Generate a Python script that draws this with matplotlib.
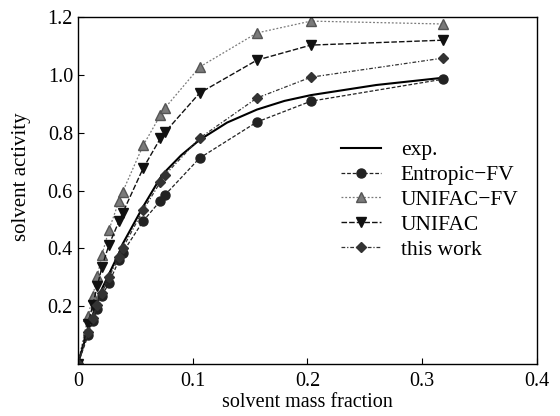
'''
Solvent activity vs solvent mass fraction - model comparison
'''

import matplotlib
matplotlib.use("Agg")
import matplotlib.pyplot as plt

# Data
mass_fraction = [0, 0.009, 0.013, 0.017, 0.021, 0.027, 0.036, 0.039,
                 0.057, 0.072, 0.076, 0.106, 0.156, 0.203, 0.318]

# experimental curve (smooth, no markers)
exp_fraction = [0, 0.009, 0.013, 0.017, 0.021, 0.027, 0.036, 0.039,
                0.057, 0.072, 0.076, 0.09, 0.106, 0.13, 0.156, 0.18,
                0.203, 0.26, 0.318]
exp_activity = [0, 0.12, 0.17, 0.215, 0.26, 0.31, 0.385, 0.415,
                0.545, 0.645, 0.665, 0.722, 0.775, 0.835, 0.88, 0.91,
                0.93, 0.965, 0.99]

entropic_fv = [0, 0.10, 0.15, 0.19, 0.235, 0.28, 0.36, 0.385,
               0.495, 0.565, 0.585, 0.712, 0.837, 0.909, 0.985]
unifac_fv = [0, 0.165, 0.235, 0.305, 0.377, 0.463, 0.565, 0.595,
             0.757, 0.861, 0.886, 1.027, 1.145, 1.186, 1.176]
unifac = [0, 0.14, 0.205, 0.27, 0.336, 0.411, 0.495, 0.522,
          0.678, 0.781, 0.802, 0.937, 1.051, 1.103, 1.120]
this_work = [0, 0.11, 0.16, 0.205, 0.245, 0.30, 0.37, 0.40,
             0.533, 0.63, 0.654, 0.781, 0.920, 0.992, 1.058]

xticks = [0, 0.1, 0.2, 0.3, 0.4]
xtick_labels = ["0", "0.1", "0.2", "0.3", "0.4"]
yticks = [0.2, 0.4, 0.6, 0.8, 1.0, 1.2]
ytick_labels = ["0.2", "0.4", "0.6", "0.8", "1.0", "1.2"]

plt.rcParams['font.family'] = ['Liberation Serif', 'DejaVu Serif']

fig = plt.figure(figsize=(5.6, 4.16), dpi=100)
ax = fig.add_axes([0.139, 0.125, 0.82, 0.834])

ax.plot(exp_fraction, exp_activity, color='black', linewidth=1.5,
        linestyle='-', label='exp.')
ax.plot(mass_fraction, entropic_fv, color='#222222', linewidth=0.9,
        linestyle=(0, (3, 1.5)), marker='o', markersize=6.5, label='Entropic\u2212FV')
ax.plot(mass_fraction, unifac_fv, color='#7a7a7a', linewidth=0.9,
        linestyle=(0, (1.5, 1.5)), marker='^', markersize=6.5,
        markeredgecolor='#555555', label='UNIFAC\u2212FV')
ax.plot(mass_fraction, unifac, color='#111111', linewidth=1.0,
        linestyle=(0, (4, 1.5)), marker='v', markersize=7, label='UNIFAC')
ax.plot(mass_fraction, this_work, color='#333333', linewidth=0.9,
        linestyle=(0, (3, 1.5, 1, 1.5)), marker='D', markersize=5, label='this work')

ax.set_xlim(0, 0.4)
ax.set_ylim(0, 1.2)
ax.set_xticks(xticks)
ax.set_xticklabels(xtick_labels)
ax.set_yticks(yticks)
ax.set_yticklabels(ytick_labels)
ax.tick_params(direction='in', length=4, labelsize=14.5, width=0.8)
ax.tick_params(axis='x', pad=6)

ax.set_xlabel("solvent mass fraction", fontsize=14.5, labelpad=1)
ax.set_ylabel("solvent activity", fontsize=15)
ax.yaxis.set_label_coords(-0.102, 0.54)

for spine in ax.spines.values():
    spine.set_linewidth(1.0)

ax.legend(loc='upper left', bbox_to_anchor=(0.572, 0.645), frameon=False,
          fontsize=15.5, handlelength=1.9, handletextpad=0.9,
          labelspacing=0.22, borderaxespad=0, borderpad=0)

plt.savefig("out.png", dpi=100)
